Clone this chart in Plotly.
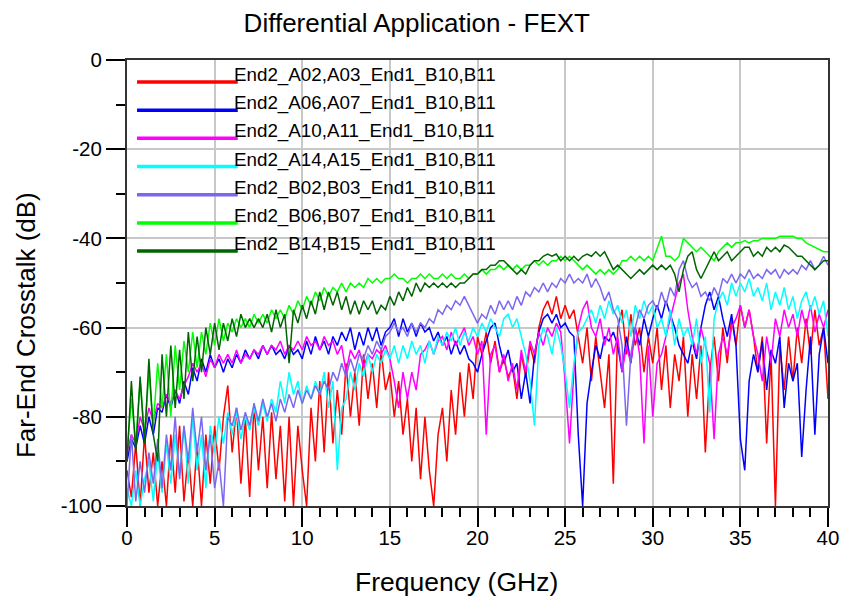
import numpy as np
import plotly.graph_objects as go

# Frequency grid (GHz): 0 .. 40 in 0.25 GHz steps
freq_ghz = np.linspace(0, 40, 161)

series_names = [
    "End2_A02,A03_End1_B10,B11",
    "End2_A06,A07_End1_B10,B11",
    "End2_A10,A11_End1_B10,B11",
    "End2_A14,A15_End1_B10,B11",
    "End2_B02,B03_End1_B10,B11",
    "End2_B06,B07_End1_B10,B11",
    "End2_B14,B15_End1_B10,B11",
]
series_colors = ["#FF0000", "#0000FF", "#FF00FF", "#00FFFF", "#7B68EE", "#00FF00", "#006400"]

fext_a02_a03 = [
    -92, -98, -86, -100, -84, -97, -88, -100,
    -90, -100, -84, -97, -82, -99, -88, -100,
    -86, -100, -84, -95, -82, -92, -80, -73,
    -88, -78, -95, -80, -98, -77, -92, -80,
    -96, -79, -94, -82, -99, -80, -100, -82,
    -92, -100, -78, -90, -72, -88, -70, -86,
    -74, -84, -68, -80, -70, -82, -66, -76,
    -68, -78, -65, -74, -70, -80, -72, -84,
    -76, -90, -78, -94, -80, -92, -100, -84,
    -78, -90, -74, -84, -70, -80, -68, -76,
    -62, -66, -61, -68, -63, -70, -67, -71,
    -69, -76, -66, -71, -64, -68, -60, -56,
    -54, -57, -53, -58, -55, -58, -56, -62,
    -68, -60, -72, -62, -70, -78, -66, -95,
    -60, -56, -66, -57, -64, -60, -70, -62,
    -68, -60, -74, -64, -78, -66, -72, -62,
    -80, -66, -76, -64, -88, -70, -62, -72,
    -60, -68, -58, -64, -55, -60, -56, -62,
    -70, -62, -86, -66, -100, -64, -74, -62,
    -72, -60, -68, -58, -66, -56, -64, -60,
    -76,
]

fext_a06_a07 = [
    -90, -85, -87, -82, -86, -80, -84, -78,
    -79, -75, -78, -74, -77, -72, -75, -69,
    -72, -67, -70, -66, -69, -67, -70, -67,
    -69, -66, -68, -65, -67, -65, -67, -64,
    -66, -64, -66, -65, -67, -64, -66, -65,
    -67, -63, -66, -62, -65, -63, -66, -62,
    -64, -61, -63, -60, -65, -61, -64, -60,
    -63, -60, -64, -61, -60, -58, -62, -58,
    -61, -59, -62, -59, -61, -60, -63, -61,
    -64, -62, -66, -63, -66, -64, -67, -68,
    -70, -66, -63, -60, -59, -64, -68, -65,
    -70, -68, -76, -70, -77, -66, -61, -58,
    -57, -59, -57, -60, -59, -61, -62, -84,
    -100, -77, -70, -64, -67, -62, -63, -61,
    -64, -70, -62, -68, -60, -64, -58, -62,
    -58, -55, -58, -54, -57, -60, -64, -66,
    -68, -63, -67, -60, -55, -52, -56, -53,
    -58, -62, -57, -64, -85, -92, -72, -66,
    -70, -63, -74, -65, -68, -62, -78, -68,
    -72, -68, -89, -74, -62, -84, -66, -60,
    -68,
]

fext_a10_a11 = [
    -88, -84, -86, -80, -83, -78, -81, -77,
    -78, -75, -77, -74, -76, -73, -71, -68,
    -70, -68, -71, -67, -69, -66, -68, -66,
    -68, -65, -68, -66, -67, -65, -66, -64,
    -66, -64, -65, -63, -66, -64, -65, -63,
    -65, -62, -64, -63, -65, -62, -64, -63,
    -66, -64, -70, -65, -67, -65, -69, -66,
    -67, -65, -66, -64, -67, -72, -78, -70,
    -76, -70, -74, -66, -65, -63, -66, -63,
    -62, -65, -61, -64, -62, -60, -64, -62,
    -66, -63, -84, -66, -64, -70, -66, -72,
    -68, -74, -65, -70, -63, -66, -61, -64,
    -60, -62, -59, -61, -72, -86, -70, -60,
    -56, -54, -60, -62, -58, -64, -60, -66,
    -62, -70, -64, -68, -60, -66, -86, -64,
    -80, -68, -66, -62, -58, -54, -50, -48,
    -56, -62, -66, -60, -64, -68, -85, -66,
    -62, -66, -60, -58, -55, -60, -56, -62,
    -66, -72, -62, -68, -58, -62, -56, -60,
    -57, -62, -56, -60, -55, -61, -57, -60,
    -56,
]

fext_a14_a15 = [
    -96, -100, -92, -100, -94, -90, -99, -88,
    -97, -86, -95, -84, -93, -82, -95, -80,
    -92, -84, -96, -82, -88, -80, -86, -79,
    -84, -79, -85, -80, -83, -78, -82, -77,
    -81, -76, -79, -72, -77, -70, -75, -72,
    -77, -73, -76, -72, -75, -70, -78, -72,
    -92, -78, -76, -70, -74, -68, -71, -66,
    -70, -66, -68, -65, -67, -64, -68, -64,
    -67, -63, -66, -64, -68, -63, -66, -62,
    -64, -61, -63, -60, -64, -61, -63, -60,
    -62, -59, -61, -58, -60, -62, -58, -57,
    -60, -58, -62, -66, -72, -82, -64, -60,
    -62, -66, -60, -64, -70, -78, -68, -61,
    -60, -58, -56, -59, -55, -58, -54, -57,
    -55, -59, -56, -62, -55, -58, -54, -57,
    -55, -60, -58, -62, -56, -64, -58, -62,
    -60, -64, -58, -68, -62, -79, -58, -54,
    -52, -55, -50, -53, -50, -52, -49, -53,
    -51, -54, -50, -56, -52, -55, -51, -56,
    -53, -58, -54, -52, -56, -53, -57, -54,
    -62,
]

fext_b02_b03 = [
    -100, -84, -99, -90, -97, -88, -95, -85,
    -96, -84, -92, -80, -94, -82, -90, -78,
    -88, -80, -92, -84, -96, -90, -100, -80,
    -82, -78, -83, -79, -82, -77, -81, -76,
    -80, -77, -81, -76, -79, -75, -78, -74,
    -77, -74, -76, -73, -75, -72, -74, -70,
    -72, -68, -71, -67, -70, -66, -67, -64,
    -66, -63, -65, -62, -61, -59, -61, -60,
    -62, -59, -61, -59, -60, -58, -59, -56,
    -57, -55, -56, -54, -55, -53, -55, -57,
    -59, -57, -58, -55, -57, -54, -56, -54,
    -56, -53, -55, -52, -53, -51, -52, -50,
    -52, -50, -51, -49, -50, -48, -50, -49,
    -50, -48, -51, -49, -51, -54, -52, -56,
    -58, -64, -82, -66, -60, -56, -58, -55,
    -54, -56, -52, -55, -51, -53, -47, -45,
    -49, -51, -50, -53, -52, -54, -51, -53,
    -49, -50, -48, -50, -48, -49, -47, -49,
    -48, -49, -47, -48, -47, -49, -47, -48,
    -47, -48, -46, -47, -45, -47, -46, -44,
    -46,
]

fext_b06_b07 = [
    -88, -76, -86, -72, -84, -70, -82, -68,
    -78, -66, -80, -64, -74, -63, -70, -61,
    -69, -61, -66, -59, -64, -58, -63, -59,
    -61, -58, -60, -58, -60, -57, -59, -57,
    -59, -56, -58, -56, -58, -55, -57, -54,
    -56, -53, -55, -52, -54, -51, -53, -51,
    -52, -50, -52, -50, -51, -50, -51, -49,
    -50, -49, -50, -49, -49, -48, -49, -49,
    -50, -49, -49, -48, -49, -48, -49, -49,
    -48, -49, -48, -49, -49, -48, -49, -48,
    -48, -47, -48, -47, -47, -46, -47, -46,
    -47, -46, -47, -46, -46, -45, -46, -45,
    -46, -45, -45, -44, -45, -44, -45, -46,
    -47, -46, -47, -48, -47, -48, -47, -48,
    -47, -45, -45, -44, -45, -44, -45, -44,
    -45, -42, -39.5, -44, -44, -45, -44, -40,
    -41, -42, -43, -42, -43, -44, -45, -43,
    -42, -41, -42, -41, -41, -40.5, -41, -40.5,
    -40.5, -40, -40, -40, -40, -39.5, -39.5, -39.5,
    -39.5, -40, -40, -41, -41.5, -42, -42.5, -43,
    -43,
]

fext_b14_b15 = [
    -90, -72, -88, -71, -86, -67, -84, -90,
    -66, -80, -64, -78, -65, -76, -61, -72,
    -62, -70, -60, -66, -59, -65, -59, -63,
    -58, -62, -57, -60, -58, -60, -58, -60,
    -57, -61, -56, -60, -57, -68, -56, -59,
    -55, -58, -54, -57, -52, -56, -52, -55,
    -52, -56, -53, -57, -54, -57, -54, -56,
    -54, -57, -55, -56, -53, -55, -52, -54,
    -51, -53, -50, -52, -50, -51, -50, -51,
    -50, -51, -50, -51, -50, -50, -49, -48,
    -48, -47, -47, -46, -46, -45, -45, -46,
    -47, -48, -47, -48, -46, -45, -45, -44,
    -43.5, -44, -43.5, -45, -44, -45, -44, -45,
    -44, -43.5, -44, -43, -44, -43, -45, -47,
    -46, -47, -48, -49, -48, -47, -48, -47,
    -46, -47, -46, -47, -46, -48, -52, -47,
    -44, -43, -47, -49, -47, -45, -43, -45,
    -44, -43, -45, -44, -43, -42, -42, -44,
    -43, -44, -42, -43, -42, -43, -41.5, -42,
    -43, -44, -44, -45, -46, -47, -46, -45,
    -45,
]

all_series = [fext_a02_a03, fext_a06_a07, fext_a10_a11, fext_a14_a15,
              fext_b02_b03, fext_b06_b07, fext_b14_b15]

x_ticks = [0, 5, 10, 15, 20, 25, 30, 35, 40]
x_tick_labels = ["0", "5", "10", "15", "20", "25", "30", "35", "40"]
y_ticks = [-100, -80, -60, -40, -20, 0]
y_tick_labels = ["-100", "-80", "-60", "-40", "-20", "0"]

FONT = "Liberation Sans, Arial, Helvetica, sans-serif"

fig = go.Figure()
for name, color, vals in zip(series_names, series_colors, all_series):
    fig.add_trace(go.Scatter(
        x=freq_ghz, y=vals, mode="lines", name=name,
        line=dict(color=color, width=1.5), showlegend=False,
    ))

# Custom legend (long line sample with overlapping label, like the original)
leg_y0 = 0.9507
leg_step = 0.0632
shapes = []
annotations = []
for i, (name, color) in enumerate(zip(series_names, series_colors)):
    yy = leg_y0 - i * leg_step
    shapes.append(dict(type="line", xref="paper", yref="paper",
                       x0=0.0143, x1=0.158, y0=yy, y1=yy,
                       line=dict(color=color, width=3.5), layer="above"))
    annotations.append(dict(xref="paper", yref="paper", x=0.1498, y=yy + 0.0157,
                            text=name, showarrow=False, xanchor="left", yanchor="middle",
                            font=dict(family=FONT, size=18.8, color="black")))

# Axis titles
annotations.append(dict(xref="paper", yref="paper", x=0.470, y=-0.170,
                        text="Frequency (GHz)", showarrow=False,
                        xanchor="center", yanchor="middle",
                        font=dict(family=FONT, size=26.5, color="black")))
annotations.append(dict(xref="paper", yref="paper", x=-0.144, y=0.4058,
                        text="Far-End Crosstalk (dB)", showarrow=False, textangle=-90,
                        xanchor="center", yanchor="middle",
                        font=dict(family=FONT, size=26, color="black")))

axis_common = dict(
    showline=True, linecolor="#333333", linewidth=2, mirror=True,
    showgrid=True, gridcolor="#C8C8C8", gridwidth=1.5,
    zeroline=False, automargin=False,
    ticks="outside", ticklen=19, tickwidth=1.5, tickcolor="black",
    tickfont=dict(family=FONT, size=20.5, color="black"),
)

fig.update_layout(
    width=842, height=598,
    margin=dict(l=127, r=14, t=60, b=92),
    paper_bgcolor="white", plot_bgcolor="white",
    title=dict(text="Differential Application - FEXT", x=0.495, xref="container",
               xanchor="center", y=0.962, yref="container", yanchor="middle",
               font=dict(family=FONT, size=26, color="black")),
    xaxis=dict(range=[0, 40], tickvals=x_ticks, ticktext=x_tick_labels,
               ticklabelstandoff=-7,
               minor=dict(dtick=1, ticks="outside", ticklen=9, tickwidth=1.5,
                          tickcolor="black", showgrid=False),
               **axis_common),
    yaxis=dict(range=[-100, 0], tickvals=y_ticks, ticktext=y_tick_labels,
               minor=dict(dtick=10, ticks="outside", ticklen=9, tickwidth=1.5,
                          tickcolor="black", showgrid=False),
               **axis_common),
    shapes=shapes,
    annotations=annotations,
    showlegend=False,
)

fig.write_html("out.html")
